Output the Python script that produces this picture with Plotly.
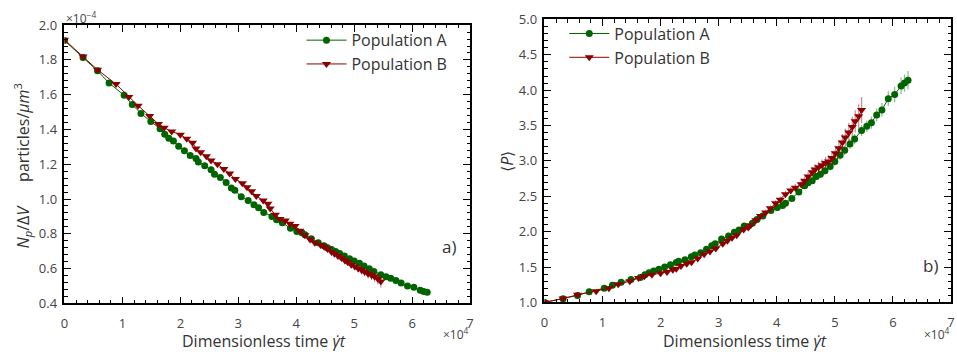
import plotly.graph_objects as go

# ---- Population A (shared time axis, in units of 1e4) ----
a_time = [0.00, 0.32, 0.57, 0.77, 1.03, 1.17, 1.32, 1.49, 1.65, 1.73,
          1.80, 1.88, 1.97, 2.07, 2.17, 2.27, 2.31, 2.42, 2.53, 2.59,
          2.69, 2.79, 2.88, 2.94, 3.05, 3.17, 3.27, 3.35, 3.44, 3.58,
          3.66, 3.76, 3.90, 4.01, 4.10, 4.15, 4.26, 4.38, 4.48, 4.54,
          4.61, 4.68, 4.75, 4.83, 4.92, 5.00, 5.09, 5.17, 5.26, 5.34,
          5.46, 5.55, 5.63, 5.72, 5.81, 5.92, 6.03, 6.14, 6.20, 6.26]
# number density N_p/ΔV (units of 1e-4 particles/µm^3)
a_density = [1.911, 1.814, 1.737, 1.667, 1.597, 1.543, 1.492, 1.446, 1.404, 1.373,
             1.350, 1.333, 1.304, 1.277, 1.250, 1.233, 1.213, 1.191, 1.168, 1.142,
             1.124, 1.095, 1.064, 1.051, 1.013, 0.991, 0.967, 0.949, 0.923, 0.900,
             0.881, 0.863, 0.832, 0.813, 0.806, 0.794, 0.772, 0.749, 0.731, 0.720,
             0.709, 0.698, 0.687, 0.672, 0.657, 0.644, 0.630, 0.615, 0.599, 0.583,
             0.565, 0.553, 0.544, 0.532, 0.517, 0.499, 0.493, 0.475, 0.468, 0.463]
a_density_err = [0.001, 0.001, 0.001, 0.001, 0.001, 0.001, 0.001, 0.001, 0.002, 0.002,
                 0.002, 0.002, 0.002, 0.002, 0.002, 0.002, 0.002, 0.002, 0.002, 0.002,
                 0.002, 0.002, 0.002, 0.002, 0.003, 0.003, 0.003, 0.003, 0.003, 0.003,
                 0.003, 0.003, 0.003, 0.003, 0.004, 0.004, 0.004, 0.004, 0.004, 0.004,
                 0.004, 0.004, 0.005, 0.005, 0.005, 0.005, 0.005, 0.005, 0.005, 0.005,
                 0.006, 0.006, 0.006, 0.006, 0.006, 0.006, 0.007, 0.007, 0.007, 0.007]
# mean pressure <P>
a_pressure = [1.000, 1.050, 1.098, 1.150, 1.200, 1.242, 1.286, 1.322, 1.353, 1.390,
              1.420, 1.445, 1.470, 1.500, 1.533, 1.565, 1.580, 1.604, 1.645, 1.671,
              1.702, 1.750, 1.800, 1.830, 1.895, 1.940, 1.990, 2.024, 2.080, 2.120,
              2.170, 2.220, 2.300, 2.340, 2.370, 2.400, 2.470, 2.560, 2.650, 2.690,
              2.720, 2.780, 2.810, 2.860, 2.920, 2.990, 3.080, 3.150, 3.240, 3.310,
              3.430, 3.490, 3.540, 3.650, 3.720, 3.880, 3.940, 4.060, 4.100, 4.140]
a_pressure_err = [0.002, 0.004, 0.005, 0.006, 0.007, 0.008, 0.009, 0.010, 0.011, 0.012,
                  0.012, 0.013, 0.014, 0.015, 0.016, 0.017, 0.017, 0.018, 0.019, 0.020,
                  0.021, 0.022, 0.023, 0.024, 0.025, 0.026, 0.027, 0.028, 0.029, 0.030,
                  0.031, 0.032, 0.034, 0.035, 0.036, 0.037, 0.039, 0.041, 0.043, 0.044,
                  0.046, 0.048, 0.050, 0.052, 0.055, 0.058, 0.062, 0.065, 0.069, 0.072,
                  0.078, 0.082, 0.086, 0.092, 0.097, 0.104, 0.110, 0.118, 0.123, 0.130]

# ---- Population B ----
b_time = [0.00, 0.32, 0.57, 0.89, 1.11, 1.27, 1.47, 1.62, 1.72, 1.85,
          2.00, 2.11, 2.21, 2.27, 2.35, 2.45, 2.53, 2.64, 2.75, 2.85,
          2.95, 3.07, 3.15, 3.23, 3.31, 3.43, 3.51, 3.55, 3.64, 3.72,
          3.81, 3.89, 3.98, 4.06, 4.15, 4.24, 4.32, 4.42, 4.48, 4.54,
          4.61, 4.66, 4.72, 4.78, 4.84, 4.89, 4.95, 5.01, 5.07, 5.13,
          5.18, 5.24, 5.30, 5.35, 5.41, 5.46]
b_density = [1.916, 1.820, 1.743, 1.661, 1.586, 1.537, 1.477, 1.432, 1.410, 1.388,
             1.370, 1.346, 1.324, 1.291, 1.269, 1.246, 1.222, 1.200, 1.173, 1.146,
             1.115, 1.091, 1.067, 1.045, 1.018, 0.991, 0.973, 0.945, 0.909, 0.885,
             0.876, 0.858, 0.845, 0.818, 0.791, 0.767, 0.749, 0.736, 0.725, 0.712,
             0.695, 0.685, 0.672, 0.660, 0.646, 0.636, 0.622, 0.612, 0.601, 0.590,
             0.581, 0.570, 0.562, 0.554, 0.540, 0.526]
b_density_err = [0.001, 0.001, 0.001, 0.001, 0.002, 0.002, 0.002, 0.002, 0.002, 0.002,
                 0.002, 0.003, 0.003, 0.003, 0.003, 0.003, 0.003, 0.003, 0.004, 0.004,
                 0.004, 0.004, 0.004, 0.005, 0.005, 0.005, 0.005, 0.006, 0.006, 0.006,
                 0.007, 0.007, 0.007, 0.008, 0.008, 0.009, 0.009, 0.010, 0.011, 0.012,
                 0.013, 0.014, 0.015, 0.016, 0.017, 0.018, 0.019, 0.020, 0.022, 0.023,
                 0.025, 0.026, 0.028, 0.030, 0.032, 0.035]
b_pressure = [1.000, 1.054, 1.107, 1.157, 1.201, 1.255, 1.300, 1.345, 1.370, 1.390,
              1.410, 1.430, 1.460, 1.475, 1.514, 1.545, 1.568, 1.622, 1.681, 1.720,
              1.760, 1.830, 1.870, 1.915, 1.950, 2.030, 2.060, 2.090, 2.160, 2.220,
              2.270, 2.330, 2.400, 2.450, 2.530, 2.580, 2.620, 2.670, 2.720, 2.780,
              2.840, 2.880, 2.910, 2.940, 2.970, 2.990, 3.040, 3.110, 3.180, 3.260,
              3.330, 3.400, 3.480, 3.560, 3.630, 3.720]
b_pressure_err = [0.002, 0.004, 0.006, 0.007, 0.008, 0.009, 0.010, 0.011, 0.012, 0.013,
                  0.014, 0.015, 0.016, 0.017, 0.018, 0.019, 0.020, 0.021, 0.022, 0.023,
                  0.024, 0.026, 0.027, 0.028, 0.029, 0.031, 0.032, 0.033, 0.035, 0.037,
                  0.039, 0.041, 0.044, 0.046, 0.049, 0.052, 0.055, 0.058, 0.061, 0.065,
                  0.069, 0.073, 0.077, 0.081, 0.086, 0.091, 0.097, 0.104, 0.111, 0.119,
                  0.127, 0.136, 0.146, 0.157, 0.170, 0.185]

x_ticks = [0, 1, 2, 3, 4, 5, 6, 7]
x_ticklabels = ["0", "1", "2", "3", "4", "5", "6", "7"]

GREEN = "#006400"
RED = "#8b0000"
GREEN_ERR = "rgba(0,100,0,0.45)"
RED_ERR = "rgba(139,0,0,0.45)"
FONT = "Open Sans"
TEXT = "#333333"
TICK_TEXT = "#444444"

W, H = 957, 356


def px(x):
    return x / W


def py(y):
    return 1 - y / H


def series(x, y, err, color, err_color, symbol, size, name, xa, ya, legend, group):
    return go.Scatter(
        x=x, y=y, mode="lines+markers", name=name,
        xaxis=xa, yaxis=ya, legend=legend, legendgroup=group,
        line=dict(color=color, width=1),
        marker=dict(color=color, symbol=symbol, size=size, line=dict(width=0)),
        error_y=dict(type="data", array=err, visible=True, color=err_color,
                     thickness=1.2, width=0),
    )


fig = go.Figure()
# panel a) number density
fig.add_trace(series(a_time, a_density, a_density_err, GREEN, GREEN_ERR, "circle", 7,
                     "Population A", "x", "y", "legend", "a1"))
fig.add_trace(series(b_time, b_density, b_density_err, RED, RED_ERR, "triangle-down", 8,
                     "Population B", "x", "y", "legend", "b1"))
# panel b) mean pressure
fig.add_trace(series(a_time, a_pressure, a_pressure_err, GREEN, GREEN_ERR, "circle", 7,
                     "Population A", "x2", "y2", "legend2", "a2"))
fig.add_trace(series(b_time, b_pressure, b_pressure_err, RED, RED_ERR, "triangle-down", 8,
                     "Population B", "x2", "y2", "legend2", "b2"))

axis_common = dict(
    showline=True, linecolor="black", linewidth=1.5, mirror="allticks",
    ticks="inside", ticklen=7, tickwidth=1.2, tickcolor="black",
    showgrid=False, zeroline=False,
    tickfont=dict(family=FONT, size=13, color=TICK_TEXT),
)
minor_common = dict(ticks="inside", ticklen=3.5, tickwidth=1, tickcolor="black")

legend_common = dict(xanchor="left", yanchor="top", bgcolor="rgba(0,0,0,0)",
                     itemwidth=40, tracegroupgap=0,
                     font=dict(family=FONT, size=16, color=TEXT))

fig.update_layout(
    width=W, height=H,
    margin=dict(l=0, r=0, t=0, b=0),
    paper_bgcolor="white", plot_bgcolor="white",
    font=dict(family=FONT, color=TEXT),
    xaxis=dict(domain=[px(61), px(470)], range=[0, 7], anchor="y",
               tickvals=x_ticks, ticktext=x_ticklabels, ticklabelstandoff=7,
               minor=dict(dtick=0.2, **minor_common), **axis_common),
    yaxis=dict(domain=[py(310), py(17)], range=[0.4, 2.0], anchor="x",
               dtick=0.2, tickformat=".1f", ticklabelstandoff=3,
               minor=dict(dtick=0.04, **minor_common), **axis_common),
    xaxis2=dict(domain=[px(545), px(955)], range=[0, 7], anchor="y2",
                tickvals=x_ticks, ticktext=x_ticklabels, ticklabelstandoff=7,
                minor=dict(dtick=0.2, **minor_common), **axis_common),
    yaxis2=dict(domain=[py(309), py(11)], range=[1.0, 5.0], anchor="x2",
                dtick=0.5, tickformat=".1f", ticklabelstandoff=3,
                minor=dict(dtick=0.1, **minor_common), **axis_common),
    legend=dict(x=px(300), y=py(15), **legend_common),
    legend2=dict(x=px(565), y=py(8), **legend_common),
)

xtitle = "Dimensionless time <i>γ̇t</i>"
annotations = [
    # x-axis titles
    dict(x=px(262), y=py(350), text=xtitle, size=16),
    dict(x=px(747), y=py(350), text=xtitle, size=16),
    # y-axis titles
    dict(x=px(19), y=py(165), textangle=-90, size=16,
         text="<i>N<sub>p</sub></i>/Δ<i>V</i>\u00a0\u00a0\u00a0\u00a0\u00a0\u00a0particles/<i>µm</i><sup>3</sup>"),
    dict(x=px(507), y=py(160), textangle=-90, size=16, text="⟨<i>P</i>⟩"),
    # axis multipliers
    dict(x=px(61), y=py(10), xanchor="left", text="×10<sup>−4</sup>",
         size=12, color=TICK_TEXT),
    dict(x=px(471), y=py(342), xanchor="right", text="×10<sup>4</sup>",
         size=12, color=TICK_TEXT),
    dict(x=px(956), y=py(342), xanchor="right", text="×10<sup>4</sup>",
         size=12, color=TICK_TEXT),
    # panel labels
    dict(x=px(449), y=py(250), text="a)", size=17),
    dict(x=px(934), y=py(270), text="b)", size=17),
]
for a in annotations:
    size = a.pop("size")
    color = a.pop("color", TEXT)
    fig.add_annotation(
        xref="paper", yref="paper", showarrow=False,
        xanchor=a.pop("xanchor", "center"), yanchor="middle",
        font=dict(family=FONT, size=size, color=color), **a,
    )

fig.write_html("out.html")
